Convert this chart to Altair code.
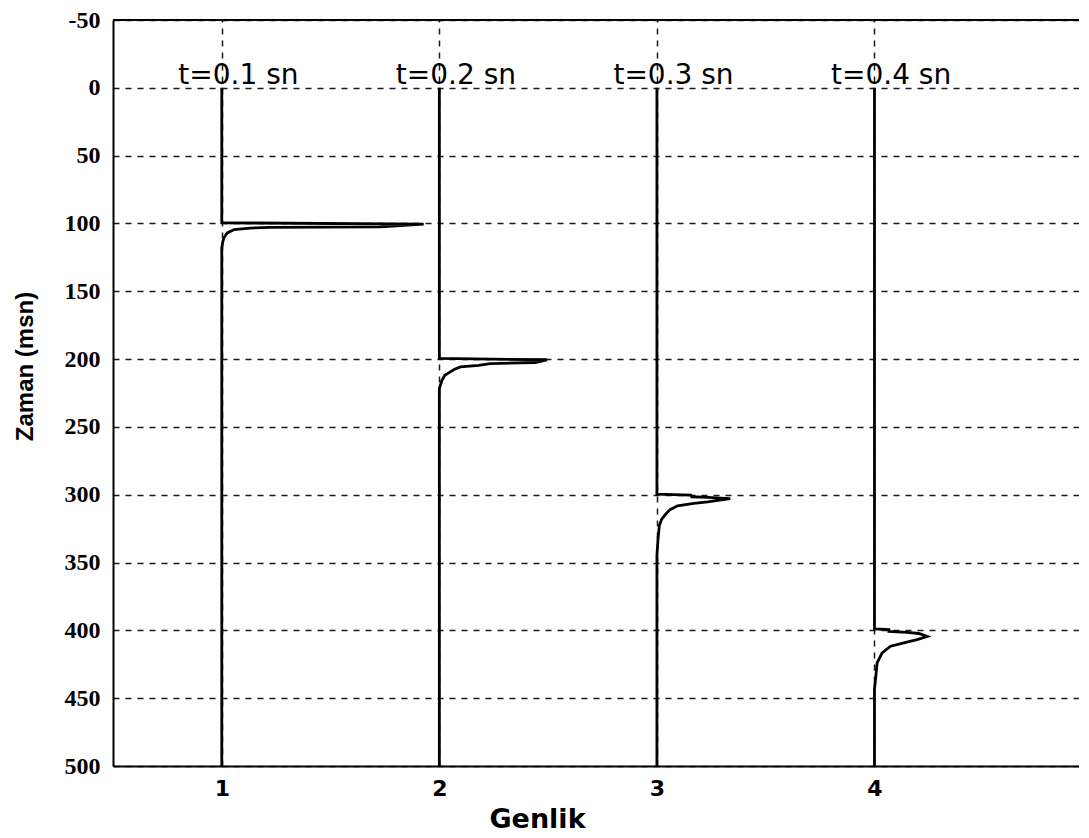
import altair as alt
import pandas as pd

# ---- data ----
trace_bases = [1, 2, 3, 4]
trace_labels = ["t=0.1 sn", "t=0.2 sn", "t=0.3 sn", "t=0.4 sn"]

t1 = [0, 99.5, 100.5, 102.5, 102.9, 103.4, 104.5, 107, 110.6, 114, 118, 500]
a1 = [0, 0, 0.928, 0.73, 0.22, 0.13, 0.057, 0.025, 0.01, 0.004, 0, 0]

t2 = [0, 199.5, 200.5, 202.5, 203.3, 204.6, 205.8, 207.5, 209.4, 212, 215.6, 221.7, 500]
a2 = [0, 0, 0.495, 0.44, 0.234, 0.18, 0.097, 0.07, 0.05, 0.025, 0.012, 0, 0]

t3 = [0, 299.5, 300.3, 301.5, 302, 302.8, 305.3, 306.3, 308.2, 311, 314.4, 318, 322.9, 332.7, 345, 500]
a3 = [0, 0, 0.156, 0.16, 0.233, 0.337, 0.233, 0.17, 0.095, 0.06, 0.04, 0.022, 0.011, 0.005, 0, 0]

t4 = [0, 399, 399.5, 400.7, 401.5, 402.3, 404.5, 406.8, 409.2, 411.7, 416.6, 423.9, 436, 443, 500]
a4 = [0, 0, 0.066, 0.066, 0.15, 0.204, 0.242, 0.196, 0.135, 0.074, 0.035, 0.012, 0.005, 0, 0]

y_ticks = list(range(-50, 501, 50))
x_ticks = [1, 2, 3, 4]
x_domain = [0.5, 4.94]
y_domain = [-50, 500]

# ---- build tables ----
rows = []
for base, ts, amps in zip(trace_bases, [t1, t2, t3, t4], [a1, a2, a3, a4]):
    for i, (t, a) in enumerate(zip(ts, amps)):
        rows.append({"trace": base, "idx": i, "t": t, "amp": base + a})
traces = pd.DataFrame(rows)

labels = pd.DataFrame({
    "amp": [b - 0.2 for b in trace_bases],
    "t": [-2.7] * len(trace_bases),
    "label": trace_labels,
})

border = pd.DataFrame({"t": [-50]})

xscale = alt.Scale(domain=x_domain, nice=False, zero=False)
yscale = alt.Scale(domain=y_domain, nice=False, zero=False, reverse=True)

grid_kw = dict(grid=True, gridColor="#1a1a1a", gridDash=[6, 6], gridWidth=1.5, gridOpacity=1)

xaxis = alt.Axis(values=x_ticks, title="Genlik", format="d",
                 labelFont="DejaVu Sans", labelFontSize=22, labelFontWeight="bold",
                 labelColor="black", labelPadding=12, tickSize=0,
                 domainColor="black", domainWidth=2,
                 titleFont="DejaVu Sans", titleFontSize=27, titleFontWeight="bold",
                 titleColor="black", titleX=424, titleY=61, titleAlign="center",
                 titleBaseline="alphabetic", **grid_kw)
yaxis = alt.Axis(values=y_ticks, title="Zaman (msn)", labelExpr="'' + datum.value",
                 labelFont="Liberation Serif", labelFontSize=24, labelFontWeight="bold",
                 labelColor="black", labelPadding=13, tickSize=0,
                 domainColor="black", domainWidth=2,
                 titleFont="Liberation Sans", titleFontSize=24, titleFontWeight="bold",
                 titleColor="black", titleX=-88, titleY=346, titleAngle=270,
                 titleAlign="center", titleBaseline="middle", **grid_kw)

lines = alt.Chart(traces).mark_line(color="black", strokeWidth=2.8, strokeJoin="miter").encode(
    x=alt.X("amp:Q", scale=xscale, axis=xaxis),
    y=alt.Y("t:Q", scale=yscale, axis=yaxis),
    detail="trace:N",
    order="idx:Q",
)

texts = alt.Chart(labels).mark_text(
    align="left", baseline="alphabetic", font="DejaVu Sans", fontSize=28, color="black"
).encode(
    x=alt.X("amp:Q", scale=xscale, axis=xaxis),
    y=alt.Y("t:Q", scale=yscale, axis=yaxis),
    text="label:N",
)

top = alt.Chart(border).mark_rule(color="black", strokeWidth=2).encode(
    y=alt.Y("t:Q", scale=yscale, axis=yaxis),
)

chart = alt.layer(lines, texts, top).properties(
    width=966, height=746,
    autosize=alt.AutoSizeParams(type="none"),
    padding={"left": 105, "top": 12, "right": 0, "bottom": 66},
).configure_view(stroke=None).configure(background="white")

chart.save("out.html", embed_options={"renderer": "svg", "actions": False})
